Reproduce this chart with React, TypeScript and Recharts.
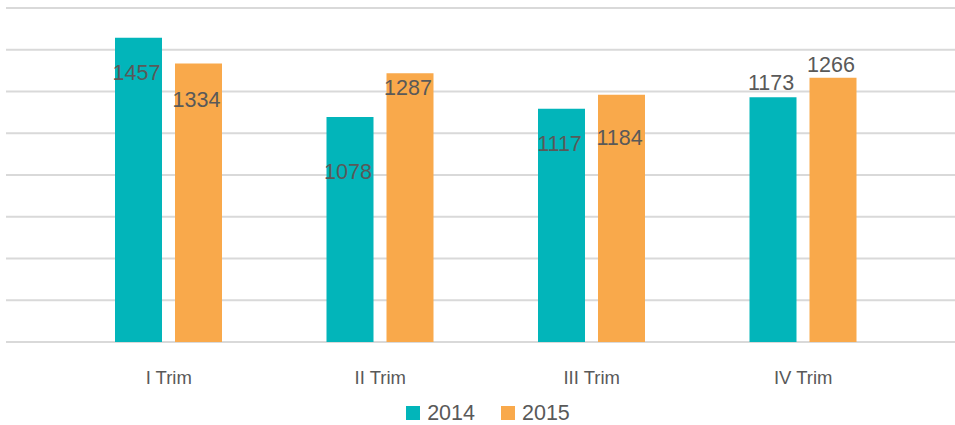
import { BarChart, Bar, XAxis, YAxis, CartesianGrid, Legend, LabelList } from "recharts";

const quarters = ["I Trim", "II Trim", "III Trim", "IV Trim"];
const values2014 = [1457, 1078, 1117, 1173];
const values2015 = [1334, 1287, 1184, 1266];
const yTicks = [0, 200, 400, 600, 800, 1000, 1200, 1400, 1600];

// label placement (px from bar top to label centre), as in the original
const labelShift2014 = [34, 54, 34, -15];
const labelShift2015 = [36, 14, 42, -13];

const data = quarters.map((q, i) => ({ quarter: q, y2014: values2014[i], y2015: values2015[i] }));

const TEAL = "#02B5BA";
const ORANGE = "#F9A94B";
const TEXT = "#595959";
const FONT = "'Liberation Sans', Arial, sans-serif";

const makeLabel = (shifts: number[]) => (props: any) => {
  const { x, y, width, value, index } = props;
  return (
    <text
      x={x + width / 2 - 2}
      y={y + shifts[index]}
      dy="0.36em"
      textAnchor="middle"
      fill={TEXT}
      fontSize={21.5}
      fontFamily={FONT}
    >
      {value}
    </text>
  );
};

const QuarterTick = (props: any) => {
  const { x, y, payload } = props;
  return (
    <text x={x} y={y} dy={34} textAnchor="middle" fill={TEXT} fontSize={18.5} fontFamily={FONT}>
      {payload.value}
    </text>
  );
};

const LegendBox = () => (
  <div style={{ display: "flex", justifyContent: "center", alignItems: "center", height: 33, paddingTop: 9, paddingLeft: 15, boxSizing: "border-box", fontFamily: FONT, fontSize: 21.5, lineHeight: "22px", color: TEXT }}>
    {[{ name: "2014", color: TEAL }, { name: "2015", color: ORANGE }].map((it) => (
      <div key={it.name} style={{ display: "flex", alignItems: "center", margin: "0 13px" }}>
        <span style={{ width: 14, height: 14, background: it.color, display: "inline-block", marginRight: 7 }} />
        <span>{it.name}</span>
      </div>
    ))}
  </div>
);

const App = () => {
  return (
    <div style={{ width: 955, height: 425, background: "#fff" }}>
      <style>{"body{margin:0;overflow:hidden}"}</style>
      <BarChart
        width={955}
        height={425}
        data={data}
        margin={{ top: 8, right: 0, left: 6, bottom: 0 }}
        barSize={47}
        barGap={13}
      >
        <CartesianGrid vertical={false} stroke="#D9D9D9" strokeWidth={2} />
        <XAxis
          dataKey="quarter"
          axisLine={false}
          tickLine={false}
          height={50}
          padding={{ left: 57, right: 46 }}
          tick={<QuarterTick />}
        />
        <YAxis hide domain={[0, 1600]} ticks={yTicks} />
        <Legend verticalAlign="bottom" content={<LegendBox />} wrapperStyle={{ height: 33 }} />
        <Bar dataKey="y2014" name="2014" fill={TEAL} isAnimationActive={false}>
          <LabelList dataKey="y2014" content={makeLabel(labelShift2014)} />
        </Bar>
        <Bar dataKey="y2015" name="2015" fill={ORANGE} isAnimationActive={false}>
          <LabelList dataKey="y2015" content={makeLabel(labelShift2015)} />
        </Bar>
      </BarChart>
    </div>
  );
};

export default App;
